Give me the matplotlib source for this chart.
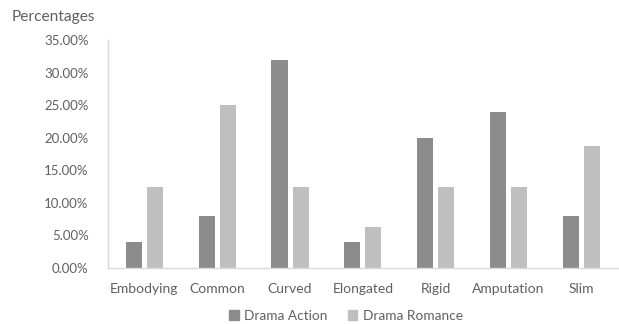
import matplotlib
matplotlib.use("Agg")
import matplotlib.pyplot as plt
from matplotlib.ticker import PercentFormatter
from matplotlib.patches import Patch
import numpy as np

categories = ["Embodying", "Common", "Curved", "Elongated", "Rigid", "Amputation", "Slim"]
drama_action = [4.0, 8.0, 32.0, 4.0, 20.0, 24.0, 8.0]
drama_romance = [12.5, 25.0, 12.5, 6.25, 12.5, 12.5, 18.75]
series_names = ["Drama Action", "Drama Romance"]
y_ticks = [0, 5, 10, 15, 20, 25, 30, 35]

plt.rcParams["font.family"] = ["Lato", "DejaVu Sans"]
text_color = "#606060"
col_action = "#8c8c8c"
col_romance = "#bfbfbf"

fig = plt.figure(figsize=(6.19, 3.24), dpi=100)
ax = fig.add_axes([0.1745, 0.1728, 0.8235, 0.7037])

x = np.arange(len(categories))
w = 0.22
off = 0.145
ax.bar(x - off, drama_action, width=w, color=col_action, label=series_names[0])
ax.bar(x + off, drama_romance, width=w, color=col_romance, label=series_names[1])

ax.set_xlim(-0.5, len(categories) - 0.5)
ax.set_ylim(0, 35)
ax.set_yticks(y_ticks)
ax.yaxis.set_major_formatter(PercentFormatter(decimals=2))
ax.set_xticks(x)
ax.set_xticklabels(categories)

for s in ["top", "right"]:
    ax.spines[s].set_visible(False)
for s in ["left", "bottom"]:
    ax.spines[s].set_color("#d9d9d9")
    ax.spines[s].set_linewidth(1.0)

ax.tick_params(axis="both", length=0, colors=text_color)
ax.tick_params(axis="y", pad=14, labelsize=9.5)
ax.tick_params(axis="x", pad=11, labelsize=10)

fig.text(12 / 619, 1 - 17 / 324, "Percentages", color=text_color, fontsize=11.2,
         ha="left", va="center")

handles = [Patch(color=col_action), Patch(color=col_romance)]
fig.legend(handles, series_names, loc="center", bbox_to_anchor=(346 / 619, 1 - 316 / 324),
           ncol=2, frameon=False, fontsize=9.8, labelcolor=text_color,
           handlelength=0.7, handleheight=0.7, handletextpad=0.4, columnspacing=1.5)

fig.savefig("out.png", dpi=100)
